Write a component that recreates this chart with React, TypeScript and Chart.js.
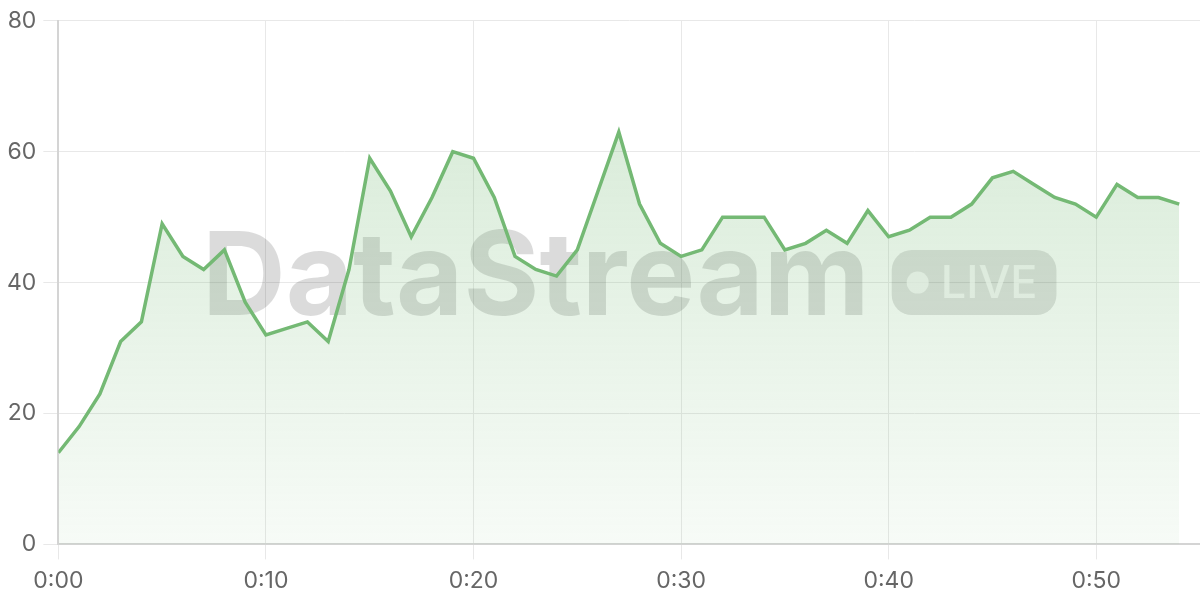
import React, { useEffect, useRef } from "react";
import { Chart, registerables } from "chart.js";

Chart.register(...registerables);

const minutes: number[] = [
  0, 1, 2, 3, 4, 5, 6, 7, 8, 9, 10, 11, 12, 13, 14, 15, 16, 17, 18, 19, 20, 21, 22, 23, 24, 25, 26, 27,
  28, 29, 30, 31, 32, 33, 34, 35, 36, 37, 38, 39, 40, 41, 42, 43, 44, 45, 46, 47, 48, 49, 50, 51, 52, 53, 54,
];
const values: number[] = [
  14, 18, 23, 31, 34, 49, 44, 42, 45, 37, 32, 33, 34, 31, 42, 59, 54, 47, 53, 60, 59, 53, 44, 42, 41, 45, 54, 63,
  52, 46, 44, 45, 50, 50, 50, 45, 46, 48, 46, 51, 47, 48, 50, 50, 52, 56, 57, 55, 53, 52, 50, 55, 53, 53, 52,
];
const xTickValues: number[] = [0, 10, 20, 30, 40, 50];
const xTickLabels: string[] = ["0:00", "0:10", "0:20", "0:30", "0:40", "0:50"];
const watermarkTitle = "DataStream";
const watermarkBadge = "LIVE";

const FONT = "Inter, 'Noto Sans', sans-serif";

const watermarkPlugin = {
  id: "watermark",
  beforeDatasetsDraw(chart: any) {
    const { ctx, chartArea } = chart;
    if (!chartArea) return;
    const cx = (chartArea.left + chartArea.right) / 2;
    const cy = (chartArea.top + chartArea.bottom) / 2;
    ctx.save();
    ctx.font = `bold 116px ${FONT}`;
    const tw = ctx.measureText(watermarkTitle).width;
    ctx.font = `500 45px ${FONT}`;
    const lw = ctx.measureText(watermarkBadge).width;
    const pillW = 49 + lw + 19;
    const pillH = 65;
    const gap = 22;
    const total = tw + gap + pillW;
    const x0 = cx - total / 2;
    ctx.font = `bold 116px ${FONT}`;
    ctx.fillStyle = "rgba(0,0,0,0.14)";
    ctx.textBaseline = "alphabetic";
    ctx.textAlign = "left";
    ctx.fillText(watermarkTitle, x0, cy + 32);
    const px = x0 + tw + gap;
    const py = cy - pillH / 2;
    ctx.beginPath();
    ctx.roundRect(px, py, pillW, pillH, 20);
    ctx.fillStyle = "rgba(0,0,0,0.12)";
    ctx.fill();
    ctx.fillStyle = "rgba(255,255,255,0.72)";
    ctx.beginPath();
    ctx.arc(px + 26, cy, 11, 0, Math.PI * 2);
    ctx.fill();
    ctx.font = `500 45px ${FONT}`;
    ctx.textBaseline = "middle";
    ctx.fillText(watermarkBadge, px + 49, cy + 2);
    ctx.restore();
  },
};

export default function App() {
  const ref = useRef<HTMLCanvasElement | null>(null);
  useEffect(() => {
    document.body.style.margin = "0";
    if (!ref.current) return;
    const chart = new Chart(ref.current, {
      type: "line",
      data: {
        datasets: [
          {
            data: minutes.map((m, i) => ({ x: m, y: values[i] })),
            borderColor: "#74b974",
            borderWidth: 3.5,
            pointRadius: 0,
            tension: 0,
            fill: "origin",
            backgroundColor: (c: any) => {
              const { chart } = c;
              const area = chart.chartArea;
              if (!area) return "rgba(116,185,116,0.15)";
              const g = chart.ctx.createLinearGradient(0, area.top, 0, area.bottom);
              g.addColorStop(0, "rgba(116,185,116,0.32)");
              g.addColorStop(1, "rgba(116,185,116,0.06)");
              return g;
            },
          },
        ],
      },
      options: {
        animation: false,
        responsive: true,
        maintainAspectRatio: false,
        layout: { padding: { left: 0, top: 8, right: 0, bottom: -3 } },
        plugins: { legend: { display: false }, tooltip: { enabled: false } },
        scales: {
          x: {
            type: "linear",
            min: 0,
            max: 55,
            afterBuildTicks: (scale: any) => {
              scale.ticks = xTickValues.map((v) => ({ value: v }));
            },
            ticks: {
              callback: (v: any) => {
                const i = xTickValues.indexOf(Number(v));
                return i >= 0 ? xTickLabels[i] : "";
              },
              color: "#666",
              font: { family: FONT, size: 23 },
              padding: 8,
              maxRotation: 0,
            },
            grid: { color: "#e8e8e8", tickLength: 15, lineWidth: 1 },
            border: { color: "#d4d4d4", width: 2 },
          },
          y: {
            min: 0,
            max: 80,
            ticks: {
              stepSize: 20,
              color: "#666",
              font: { family: FONT, size: 23 },
              padding: 7,
            },
            grid: { color: "#e8e8e8", tickLength: 15, lineWidth: 1 },
            border: { color: "#d4d4d4", width: 2 },
          },
        },
      },
      plugins: [watermarkPlugin],
    });
    return () => chart.destroy();
  }, []);
  return (
    <div style={{ width: 1200, height: 600, position: "relative" }}>
      <canvas ref={ref} />
    </div>
  );
}
